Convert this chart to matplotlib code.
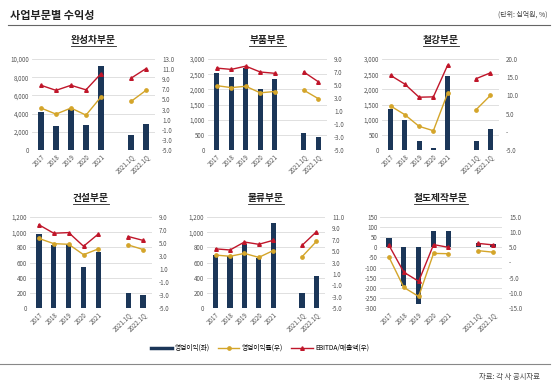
import matplotlib.pyplot as plt
import numpy as np
from matplotlib.lines import Line2D

plt.rcParams["font.family"] = ["Noto Sans CJK KR", "DejaVu Sans"]

CATEGORIES = ["2017", "2018", "2019", "2020", "2021", "", "2021.1Q", "2022.1Q"]
NAN = np.nan

# 영업이익 (좌, 십억원), 영업이익률 (우, %), EBITDA/매출액 (우, %)
auto_profit = [4150, 2680, 4560, 2720, 9250, NAN, 1620, 2830]
auto_margin = [3.3, 2.1, 3.3, 1.9, 5.5, NAN, 4.6, 6.8]
auto_ebitda = [7.8, 6.8, 7.8, 6.9, 10.1, NAN, 9.2, 11.1]

parts_profit = [2540, 2410, 2700, 2000, 2350, NAN, 570, 440]
parts_margin = [4.9, 4.6, 4.8, 3.8, 4.0, NAN, 4.2, 2.9]
parts_ebitda = [7.6, 7.4, 7.9, 7.0, 6.8, NAN, 7.0, 5.5]

steel_profit = [1340, 1000, 310, 60, 2440, NAN, 290, 690]
steel_margin = [7.1, 4.7, 1.5, 0.3, 10.6, NAN, 6.1, 10.0]
steel_ebitda = [15.5, 13.1, 9.5, 9.6, 18.3, NAN, 14.6, 16.2]

const_profit = [976, 835, 844, 540, 740, NAN, 200, 170]
const_margin = [5.7, 4.9, 4.8, 3.2, 4.1, NAN, 4.7, 4.0]
const_ebitda = [7.8, 6.5, 6.6, 4.5, 6.4, NAN, 6.0, 5.4]

logi_profit = [700, 682, 846, 664, 1120, NAN, 199, 416]
logi_margin = [4.3, 4.1, 4.6, 3.9, 5.1, NAN, 4.0, 6.7]
logi_ebitda = [5.4, 5.2, 6.6, 6.2, 6.9, NAN, 6.0, 8.4]

rail_profit = [46, -190, -280, 82, 79, NAN, 22, 17]
rail_margin = [1.8, -8.2, -11.2, 3.0, 2.9, NAN, 3.9, 3.4]
rail_ebitda = [5.7, -3.2, -6.2, 5.9, 5.0, NAN, 6.3, 5.8]

BAR_C = "#1B3658"
MARGIN_C = "#D4A52A"
EBITDA_C = "#C0162A"
GRID_C = "#DADADA"
TICK_C = "#555555"


def dash_zero(v, _=None):
    return "-" if abs(v) < 1e-9 else f"{v:.1f}"


panels = [
    ("완성차부문", auto_profit, auto_margin, auto_ebitda,
     np.arange(0, 10001, 2000), np.arange(-5, 13.1, 2), False,
     [32 / 558, 1 - 150 / 387, 123 / 558, 91 / 387]),
    ("부품부문", parts_profit, parts_margin, parts_ebitda,
     np.arange(0, 3001, 500), np.arange(-5, 9.1, 2), False,
     [208 / 558, 1 - 150 / 387, 119 / 558, 91 / 387]),
    ("철강부문", steel_profit, steel_margin, steel_ebitda,
     np.arange(0, 3001, 500), np.arange(-5, 20.1, 5), True,
     [382 / 558, 1 - 150 / 387, 117 / 558, 91 / 387]),
    ("건설부문", const_profit, const_margin, const_ebitda,
     np.arange(0, 1201, 200), np.arange(-5, 9.1, 2), False,
     [30 / 558, 1 - 308 / 387, 122 / 558, 91 / 387]),
    ("물류부문", logi_profit, logi_margin, logi_ebitda,
     np.arange(0, 1201, 200), np.arange(-5, 11.1, 2), False,
     [207 / 558, 1 - 308 / 387, 118 / 558, 91 / 387]),
    ("철도제작부문", rail_profit, rail_margin, rail_ebitda,
     np.arange(-300, 151, 50), np.arange(-15, 15.1, 5), True,
     [380 / 558, 1 - 308 / 387, 122 / 558, 91 / 387]),
]

fig = plt.figure(figsize=(5.58, 3.87), dpi=100)
x = np.arange(len(CATEGORIES))

titles = []
for title, profit, margin, ebitda, lticks, rticks, dash, rect in panels:
    ax = fig.add_axes(rect)
    ax.set_axisbelow(True)
    ax.bar(x, profit, width=0.36, color=BAR_C, zorder=2)
    ax.set_ylim(lticks[0], lticks[-1])
    ax.set_yticks(lticks)
    ax.yaxis.set_major_formatter(plt.FuncFormatter(lambda v, _: f"{int(v):,}"))
    ax.grid(axis="y", color=GRID_C, linewidth=0.6)
    ax.set_xlim(-0.6, len(CATEGORIES) - 0.4)
    ax.set_xticks(x)
    ax.set_xticklabels(CATEGORIES, rotation=45, ha="right", rotation_mode="anchor")
    ax.tick_params(axis="both", labelsize=4.5, colors=TICK_C, length=0, pad=2)
    for s in ax.spines.values():
        s.set_visible(False)

    ax2 = ax.twinx()
    ax2.plot(x, margin, color=MARGIN_C, marker="o", markersize=2.4, linewidth=1.0)
    ax2.plot(x, ebitda, color=EBITDA_C, marker="^", markersize=2.6, linewidth=1.0)
    ax2.set_ylim(rticks[0], rticks[-1])
    ax2.set_yticks(rticks)
    if dash:
        ax2.yaxis.set_major_formatter(plt.FuncFormatter(dash_zero))
    else:
        ax2.yaxis.set_major_formatter(plt.FuncFormatter(lambda v, _: f"{v:.1f}"))
    ax2.tick_params(axis="y", labelsize=4.5, colors=TICK_C, length=0, pad=5)
    for s in ax2.spines.values():
        s.set_visible(False)

    cx = rect[0] + rect[2] / 2
    ty = rect[1] + rect[3] + 0.048
    titles.append(fig.text(cx, ty, title, ha="center", va="center",
                           fontsize=7, fontweight="bold", color="#222222"))

fig.text(10 / 558, 1 - 15 / 387, "사업부문별 수익성", ha="left", va="center",
         fontsize=8, fontweight="bold", color="#222222")
fig.text(548 / 558, 1 - 15 / 387, "(단위: 십억원, %)", ha="right", va="center",
         fontsize=5, color="#444444")
fig.add_artist(Line2D([8 / 558, 550 / 558], [1 - 25 / 387, 1 - 25 / 387],
                      color="#666666", linewidth=0.8))
fig.add_artist(Line2D([0, 550 / 558], [1 - 364 / 387, 1 - 364 / 387],
                      color="#888888", linewidth=0.8))
fig.text(540 / 558, 1 - 377 / 387, "자료: 각 사 공시자료", ha="right", va="center",
         fontsize=5.3, color="#444444")

handles = [
    Line2D([], [], color=BAR_C, linewidth=2.5),
    Line2D([], [], color=MARGIN_C, marker="o", markersize=2.4, linewidth=1.0),
    Line2D([], [], color=EBITDA_C, marker="^", markersize=2.6, linewidth=1.0),
]
fig.legend(handles, ["영업이익(좌)", "영업이익률(우)", "EBITDA/매출액(우)"],
           loc="center", bbox_to_anchor=(260 / 558, 1 - 348 / 387), ncol=3,
           frameon=False, fontsize=4.8, handlelength=3.2, columnspacing=1.2,
           handletextpad=0.4)

# underline the panel titles
fig.canvas.draw()
renderer = fig.canvas.get_renderer()
inv = fig.transFigure.inverted()
for t in titles:
    bb = t.get_window_extent(renderer)
    (x0, y0), (x1, _) = inv.transform([[bb.x0, bb.y0], [bb.x1, bb.y1]])
    fig.add_artist(Line2D([x0, x1], [y0 - 0.002, y0 - 0.002],
                          color="#222222", linewidth=0.6))

fig.savefig("out.png", dpi=100)
